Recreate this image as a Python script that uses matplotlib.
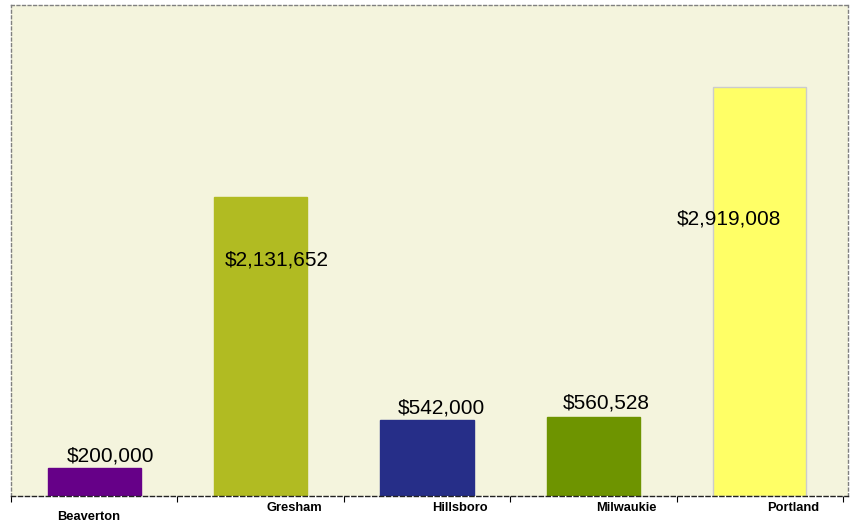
import matplotlib.pyplot as plt
import numpy as np

plt.rcParams['font.family'] = ['Liberation Sans', 'DejaVu Sans']

# data
cities = ['Beaverton', 'Gresham', 'Hillsboro', 'Milwaukie', 'Portland']
amounts = [200000, 2131652, 542000, 560528, 2919008]
colors = ['#660088', '#B1BB22', '#262E88', '#6E9400', '#FFFF66']
edges = ['#660088', '#B1BB22', '#262E88', '#6E9400', '#CCCCCC']

# label offsets in pixels (x, y) relative to bar top centre
lbl_off = [(16, 12), (16, -63), (14, 12), (13, 14), (-31, -132)]

fig = plt.figure(figsize=(8.51, 5.25), dpi=100)
ax = fig.add_axes([11/851, 29/525, 837/851, 491/525])
ax.set_facecolor('#F4F4DD')

x = np.arange(len(cities))
ax.bar(x, amounts, width=0.56, color=colors, edgecolor=edges, linewidth=1)

for i, v in enumerate(amounts):
    dx, dy = lbl_off[i]
    ax.annotate('${:,}'.format(v), xy=(x[i], v), xytext=(dx * 0.72, dy * 0.72),
                textcoords='offset points', ha='center', va='center',
                fontsize=15, color='black')

ax.set_xlim(-0.5, 4.53)
ax.set_ylim(0, 3504000)
ax.set_yticks([])
ax.set_xticks(np.arange(-0.5, 5, 1))
ax.set_xticklabels([])
ax.tick_params(axis='x', direction='out', length=4, color='black', width=0.8)

# category labels (Beaverton sits lower, others shifted right)
for i, c in enumerate(cities):
    if i == 0:
        ax.annotate(c, xy=(x[i], 0), xytext=(-4, -15), textcoords='offset points',
                    ha='center', va='center', fontsize=9.3, fontweight='bold')
    else:
        ax.annotate(c, xy=(x[i], 0), xytext=(24, -8.5), textcoords='offset points',
                    ha='center', va='center', fontsize=9.3, fontweight='bold')

for s in ['top', 'left', 'right']:
    ax.spines[s].set_color('#808080')
    ax.spines[s].set_linestyle((0, (2, 2)))
    ax.spines[s].set_linewidth(1)
ax.spines['bottom'].set_color('#222222')
ax.spines['bottom'].set_linestyle((0, (3, 2)))
ax.spines['bottom'].set_linewidth(1)

fig.savefig('out.png', dpi=100, facecolor='white')
